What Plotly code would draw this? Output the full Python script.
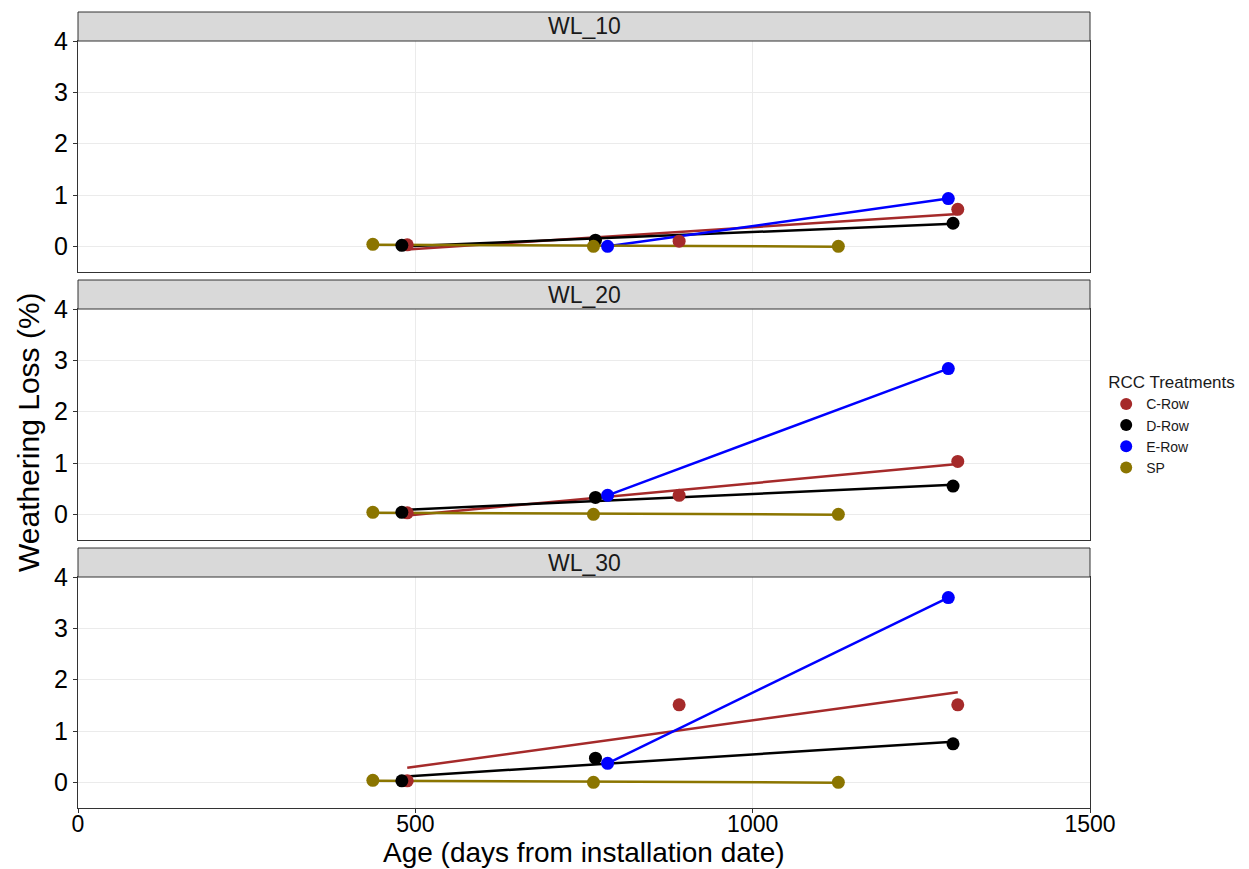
import numpy as np
import plotly.graph_objects as go

# ---------------- data ----------------
panels = ["WL_10", "WL_20", "WL_30"]
groups = ["C-Row", "D-Row", "E-Row", "SP"]
colors = {"C-Row": "#A52A2A", "D-Row": "#000000", "E-Row": "#0000FF", "SP": "#8B7500"}

age_c = [488, 891, 1304]
age_d = [480, 767, 1297]
age_e = [785, 1290]
age_sp = [437, 764, 1127]

wl10_c = [0.03, 0.10, 0.72]
wl10_d = [0.02, 0.12, 0.45]
wl10_e = [0.00, 0.93]
wl10_sp = [0.04, 0.00, 0.00]

wl20_c = [0.03, 0.37, 1.03]
wl20_d = [0.04, 0.33, 0.55]
wl20_e = [0.37, 2.84]
wl20_sp = [0.04, 0.00, 0.00]

wl30_c = [0.03, 1.51, 1.51]
wl30_d = [0.03, 0.47, 0.75]
wl30_e = [0.37, 3.60]
wl30_sp = [0.04, 0.00, 0.00]

x_ticks = [0, 500, 1000, 1500]
y_ticks = [0, 1, 2, 3, 4]

ages = {"C-Row": age_c, "D-Row": age_d, "E-Row": age_e, "SP": age_sp}
values = {
    "WL_10": {"C-Row": wl10_c, "D-Row": wl10_d, "E-Row": wl10_e, "SP": wl10_sp},
    "WL_20": {"C-Row": wl20_c, "D-Row": wl20_d, "E-Row": wl20_e, "SP": wl20_sp},
    "WL_30": {"C-Row": wl30_c, "D-Row": wl30_d, "E-Row": wl30_e, "SP": wl30_sp},
}

# ---------------- layout geometry ----------------
W, H = 1249, 869
ml, mr, mt, mb = 78, 159, 41, 61
plot_h = H - mt - mb
plot_w = W - ml - mr
panel_px = [(41, 272), (309, 540), (577, 808)]  # top,bottom in px
domains = []
for top, bot in panel_px:
    y0 = (H - mb - bot) / plot_h
    y1 = (H - mb - top) / plot_h
    domains.append([y0, y1])

fig = go.Figure()
font_family = "Liberation Sans, Arial, sans-serif"

for i, p in enumerate(panels):
    xa = "x" if i == 0 else f"x{i+1}"
    ya = "y" if i == 0 else f"y{i+1}"
    # regression lines (linear fit per group)
    for g in groups:
        xs = np.array(ages[g], dtype=float)
        ys = np.array(values[p][g], dtype=float)
        k, b = np.polyfit(xs, ys, 1)
        xl = np.array([xs.min(), xs.max()])
        fig.add_trace(go.Scatter(
            x=xl, y=k * xl + b, mode="lines",
            line=dict(color=colors[g], width=2.5),
            xaxis=xa, yaxis=ya, showlegend=False, hoverinfo="skip"))
    # points
    for g in groups:
        fig.add_trace(go.Scatter(
            x=ages[g], y=values[p][g], mode="markers",
            marker=dict(color=colors[g], size=13),
            name=g, legendgroup=g, showlegend=(i == 0),
            xaxis=xa, yaxis=ya))

axis_common = dict(
    showgrid=True, gridcolor="#EBEBEB", gridwidth=1, zeroline=False,
    showline=True, linecolor="#333333", linewidth=1, mirror=True,
)

layout = dict(
    width=W, height=H,
    margin=dict(l=ml, r=mr, t=mt, b=mb),
    paper_bgcolor="white", plot_bgcolor="white",
    font=dict(family=font_family, color="black"),
    legend=dict(
        title=dict(text="RCC Treatments", font=dict(size=17, color="#1A1A1A")),
        font=dict(size=14, color="#1A1A1A"),
        x=1.016, xanchor="left", y=0.576, yanchor="top",
        bgcolor="rgba(0,0,0,0)", itemsizing="constant",
        tracegroupgap=0,
    ),
    shapes=[], annotations=[],
)

for i, p in enumerate(panels):
    sfx = "" if i == 0 else str(i + 1)
    xa_name = "xaxis" + sfx
    ya_name = "yaxis" + sfx
    bottom = (i == len(panels) - 1)
    layout[xa_name] = dict(
        axis_common, range=[0, 1500], tickvals=x_ticks,
        anchor="y" + sfx, domain=[0, 1],
        showticklabels=bottom,
        ticks="outside" if bottom else "", ticklen=4, tickcolor="#333333",
        tickfont=dict(size=23, color="black"),
        ticklabelstandoff=-9,
        **({} if i == 0 else {"matches": "x"}),
    )
    layout[ya_name] = dict(
        axis_common, range=[-0.5, 4.0], tickvals=y_ticks,
        anchor="x" + sfx, domain=domains[i],
        ticks="outside", ticklen=4, tickcolor="#333333",
        tickfont=dict(size=25, color="black"),
    )
    strip_h = 29 / (panel_px[i][1] - panel_px[i][0])
    layout["shapes"].append(dict(
        type="rect", xref="x" + sfx + " domain", yref="y" + sfx + " domain",
        x0=0, x1=1, y0=1, y1=1 + strip_h,
        fillcolor="#D9D9D9", line=dict(color="#333333", width=1), layer="above"))
    layout["annotations"].append(dict(
        text=p, xref="x" + sfx + " domain", yref="y" + sfx + " domain",
        x=0.5, y=1 + strip_h / 2, showarrow=False,
        font=dict(size=23, color="#1A1A1A"), xanchor="center", yanchor="middle"))

layout["annotations"].append(dict(
    text="Weathering Loss (%)", xref="paper", yref="paper",
    x=(28 - ml) / plot_w, y=(H - mb - 432) / plot_h, textangle=-90, showarrow=False,
    font=dict(size=30, color="black"), xanchor="center", yanchor="middle"))
layout["annotations"].append(dict(
    text="Age (days from installation date)", xref="paper", yref="paper",
    x=0.5, y=(H - mb - 853) / plot_h, showarrow=False,
    font=dict(size=28, color="black"), xanchor="center", yanchor="middle"))

fig.update_layout(layout)
fig.write_html("out.html")
